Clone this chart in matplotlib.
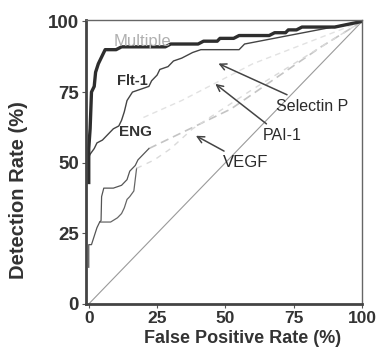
import matplotlib
matplotlib.use('Agg')
import matplotlib.pyplot as plt

plt.rcParams['font.family'] = ['Liberation Sans', 'DejaVu Sans']

# ROC curves (false positive rate %, detection rate %)
multiple_x = [0, 0, 0.5, 1, 2, 2.5, 3.5, 5, 6, 10, 12, 28, 30, 40, 42, 47, 48, 53, 55, 66, 68, 72, 73, 76, 78, 90, 100]
multiple_y = [43, 55, 62, 75, 77, 82, 85, 88, 90, 90, 91, 91, 92, 92, 93, 93, 94, 94, 95, 95, 96, 96, 97, 97, 98, 98, 100]

flt_x = [0, 0.5, 2, 3, 5, 7, 9, 11, 12, 13, 14, 16, 19, 22, 23, 25, 26, 29, 31, 34, 36, 38, 41, 55, 57, 100]
flt_y = [52, 53, 55, 57, 58, 60, 62, 63, 65, 68, 72, 75, 76, 77, 79, 81, 83, 84, 86, 87, 88, 89, 90, 90, 92, 100]

eng_x = [0, 0, 1, 2, 3, 4, 4.5, 4.7, 5.5, 9, 12, 14, 15, 17, 18, 20, 22]
eng_y = [13, 21, 21, 24, 27, 29, 29.5, 38, 41, 41, 42, 44, 47, 49, 51, 53, 55]

vegf_x = [4, 8, 10.5, 12, 13, 14, 15, 16.5, 17, 17.5, 24, 30, 38, 60, 100]
vegf_y = [29, 29, 30.5, 32, 34, 37, 38, 40, 44, 48, 51, 55, 62, 76, 100]

pai_x = [22, 52, 85, 100]
pai_y = [55, 69, 91, 100]

selectin_x = [20, 34, 60, 100]
selectin_y = [66, 72, 85, 100]

ticks = [0, 25, 50, 75, 100]

fig = plt.figure(figsize=(3.84, 3.52), dpi=100)
ax = fig.add_axes([0.224, 0.1364, 0.719, 0.8068])

ax.plot([0, 100], [0, 100], color='#9a9a9a', lw=0.8)
ax.plot(selectin_x, selectin_y, color='#e2e2e2', lw=1, ls=(0, (4, 3)))
ax.plot(pai_x, pai_y, color='#c4c4c4', lw=1.2, ls=(0, (5, 3)))
ax.plot(vegf_x[:10], vegf_y[:10], color='#666666', lw=0.9)
ax.plot(vegf_x[9:], vegf_y[9:], color='#dadada', lw=1, ls=(0, (4, 4)))
ax.plot(eng_x, eng_y, color='#555555', lw=0.9)
ax.plot(flt_x, flt_y, color='#444444', lw=1)
ax.plot(multiple_x, multiple_y, color='#2e2e2e', lw=2.4)

ax.text(19.5, 93, 'Multiple', color='#b0b0b0', fontsize=12, ha='center', va='center')
ax.text(16, 79, 'Flt-1', color='#333333', fontsize=10.5, fontweight='bold', ha='center', va='center')
ax.text(17, 61, 'ENG', color='#333333', fontsize=11, fontweight='bold', ha='center', va='center')

arrow = dict(arrowstyle='->', color='#444444', lw=1.1)
ax.annotate('Selectin P', xy=(46.5, 85.5), xytext=(68.5, 70), color='#2a2a2a',
            fontsize=11.5, va='center', ha='left', arrowprops=arrow)
ax.annotate('PAI-1', xy=(45.5, 78.5), xytext=(63.5, 59.5), color='#2a2a2a',
            fontsize=11.5, va='center', ha='left', arrowprops=arrow)
ax.annotate('VEGF', xy=(38.3, 60), xytext=(49, 50), color='#2a2a2a',
            fontsize=12, va='center', ha='left', arrowprops=arrow)

ax.set_xlim(-1, 100)
ax.set_ylim(0, 100.5)
ax.set_xticks(ticks)
ax.set_yticks(ticks)
ax.set_xticklabels([str(t) for t in ticks], fontsize=12.5, fontweight='bold', color='#333333')
ax.set_yticklabels([str(t) for t in ticks], fontsize=13.5, fontweight='bold', color='#333333')
ax.tick_params(length=3, width=0.8, colors='#555555')
ax.tick_params(axis='x', pad=2)
ax.tick_params(axis='y', pad=2)
for lab in ax.get_xticklabels() + ax.get_yticklabels():
    lab.set_color('#333333')

ax.spines['left'].set_linewidth(2)
ax.spines['bottom'].set_linewidth(2)
ax.spines['left'].set_color('#444444')
ax.spines['bottom'].set_color('#444444')
ax.spines['top'].set_color('#666666')
ax.spines['right'].set_color('#666666')
ax.spines['top'].set_linewidth(1)
ax.spines['right'].set_linewidth(1)

ax.set_xlabel('False Positive Rate (%)', fontsize=13, fontweight='bold', color='#333333')
ax.set_ylabel('Detection Rate (%)', fontsize=14.5, fontweight='bold', color='#333333')
ax.xaxis.set_label_coords(0.567, -0.093)
ax.yaxis.set_label_coords(-0.21, 0.401)

fig.savefig('out.png', dpi=100)
